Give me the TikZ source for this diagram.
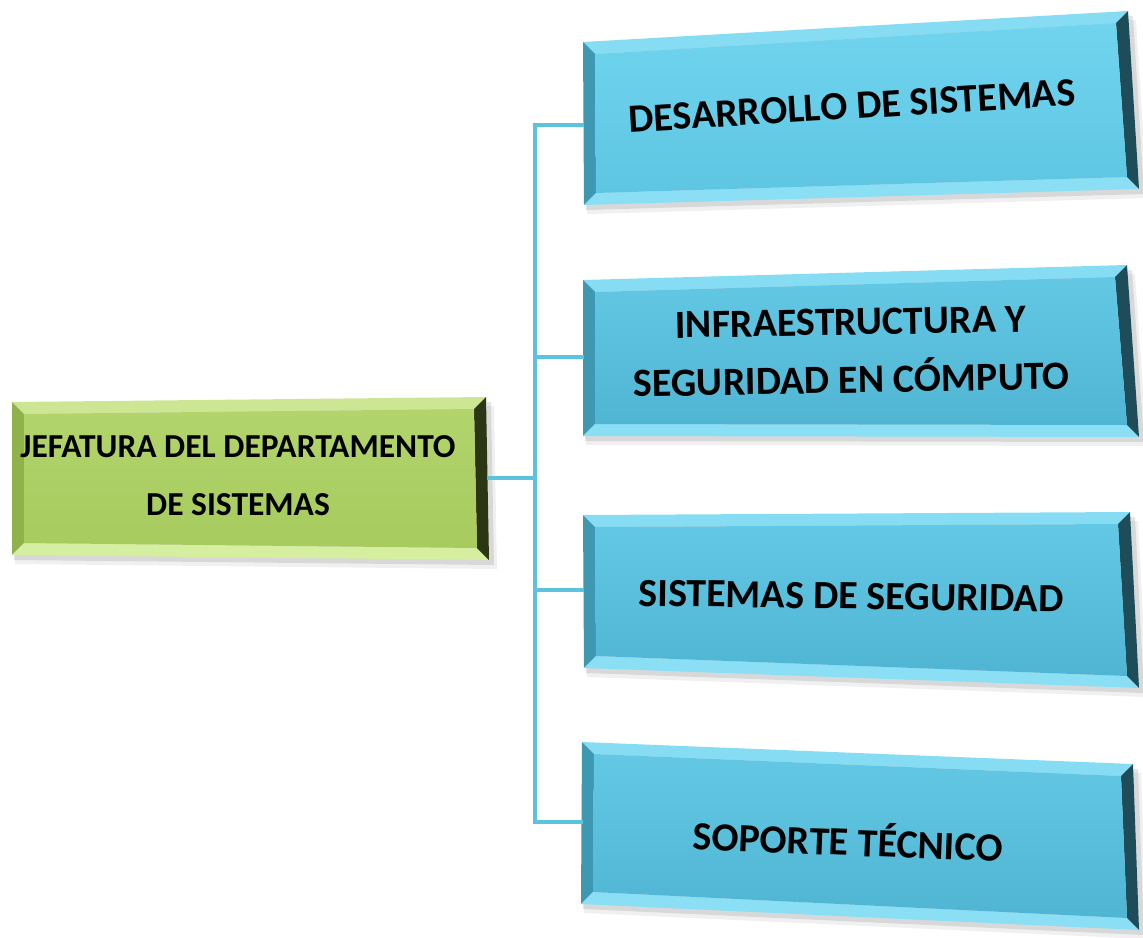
\documentclass[tikz,border=0pt]{standalone}
\usepackage{fontspec}
\setmainfont{Carlito}
\usetikzlibrary{calc}
\definecolor{conncol}{HTML}{5BC3E0}
\definecolor{bface}{HTML}{50B5D2}
\definecolor{bfacetop}{HTML}{62C8E4}
\definecolor{b1face}{HTML}{5EC6E2}
\definecolor{b1facetop}{HTML}{70D4EE}
\definecolor{btop}{HTML}{86DCF2}
\definecolor{bleft}{HTML}{3E98B2}
\definecolor{bbot}{HTML}{8ADFF4}
\definecolor{bright}{HTML}{1F4C59}
\definecolor{gface}{HTML}{A7CB5E}
\definecolor{gfacetop}{HTML}{B2D46C}
\definecolor{gtop}{HTML}{CDE693}
\definecolor{gleft}{HTML}{8FB24A}
\definecolor{gbot}{HTML}{D6EEA0}
\definecolor{gright}{HTML}{2B3614}
\newcommand\bevbox[9]{%
  \coordinate (A) at #1; \coordinate (B) at #2;
  \coordinate (C) at #3; \coordinate (D) at #4;
  \coordinate (a) at ($(A)+(12,12)$); \coordinate (b) at ($(B)+(-12,12)$);
  \coordinate (c) at ($(C)+(-12,-12)$); \coordinate (d) at ($(D)+(12,-12)$);
  \fill[black,opacity=.06] ($(A)+(3,9)$) -- ($(B)+(8,9)$) -- ($(C)+(8,9)$) -- ($(D)+(3,9)$) -- cycle;
  \fill[black,opacity=.10] ($(A)+(2,5)$) -- ($(B)+(5,5)$) -- ($(C)+(5,5)$) -- ($(D)+(2,5)$) -- cycle;
  \fill[#6] (A)--(B)--(b)--(a)--cycle;
  \fill[#7] (A)--(a)--(d)--(D)--cycle;
  \fill[#8] (D)--(d)--(c)--(C)--cycle;
  \fill[#9] (B)--(C)--(c)--(b)--cycle;
  \shade[top color=#5top, bottom color=#5] (a)--(b)--(c)--(d)--cycle;
}
\begin{document}
\begin{tikzpicture}[x=1pt,y=-1pt,
  lbl/.style={font=\bfseries\fontsize{33.5}{58}\selectfont, align=center, text=black, inner sep=0pt},
  blbl/.style={font=\bfseries\fontsize{40}{58}\selectfont, align=center, text=black, inner sep=0pt},
  conn/.style={draw=conncol, line width=3.5pt}]
\useasboundingbox (0,0) rectangle (1143,937);
% boxes
\bevbox{(12,402)}{(486,397)}{(489,560)}{(12,555)}{gface}{gtop}{gleft}{gbot}{gright}
\coordinate (rooteast) at (487,478);
\bevbox{(583,42)}{(1128,11)}{(1139,189)}{(584,205)}{b1face}{btop}{bleft}{bbot}{bright}
\coordinate (b1w) at (584,125);
\bevbox{(583,280)}{(1127,265)}{(1139,437)}{(583,436)}{bface}{btop}{bleft}{bbot}{bright}
\coordinate (b2w) at (584,357);
\bevbox{(583,515)}{(1130,512)}{(1139,688)}{(584,668)}{bface}{btop}{bleft}{bbot}{bright}
\coordinate (b3w) at (584,590);
\bevbox{(582,742)}{(1133,764)}{(1139,930)}{(581,904)}{bface}{btop}{bleft}{bbot}{bright}
\coordinate (b4w) at (583,822);
% labels
\node[lbl] (root) at (238,476) {JEFATURA DEL DEPARTAMENTO\\DE SISTEMAS};
\node[blbl, rotate=3.5] (n1) at (852,106) {DESARROLLO DE SISTEMAS};
\node[blbl, rotate=1] (n2) at (851,351) {INFRAESTRUCTURA Y\\SEGURIDAD EN CÓMPUTO};
\node[blbl, rotate=-0.8] (n3) at (851,596) {SISTEMAS DE SEGURIDAD};
\node[blbl, rotate=-2.2] (n4) at (848,839) {SOPORTE TÉCNICO};
% connectors
\coordinate (trunk) at (535,478);
\draw[conn] (rooteast) -- (trunk);
\draw[conn] (b1w) -- (b1w -| trunk) -- (b4w -| trunk) -- (b4w);
\draw[conn] (b2w -| trunk) -- (b2w);
\draw[conn] (b3w -| trunk) -- (b3w);
\end{tikzpicture}
\end{document}
